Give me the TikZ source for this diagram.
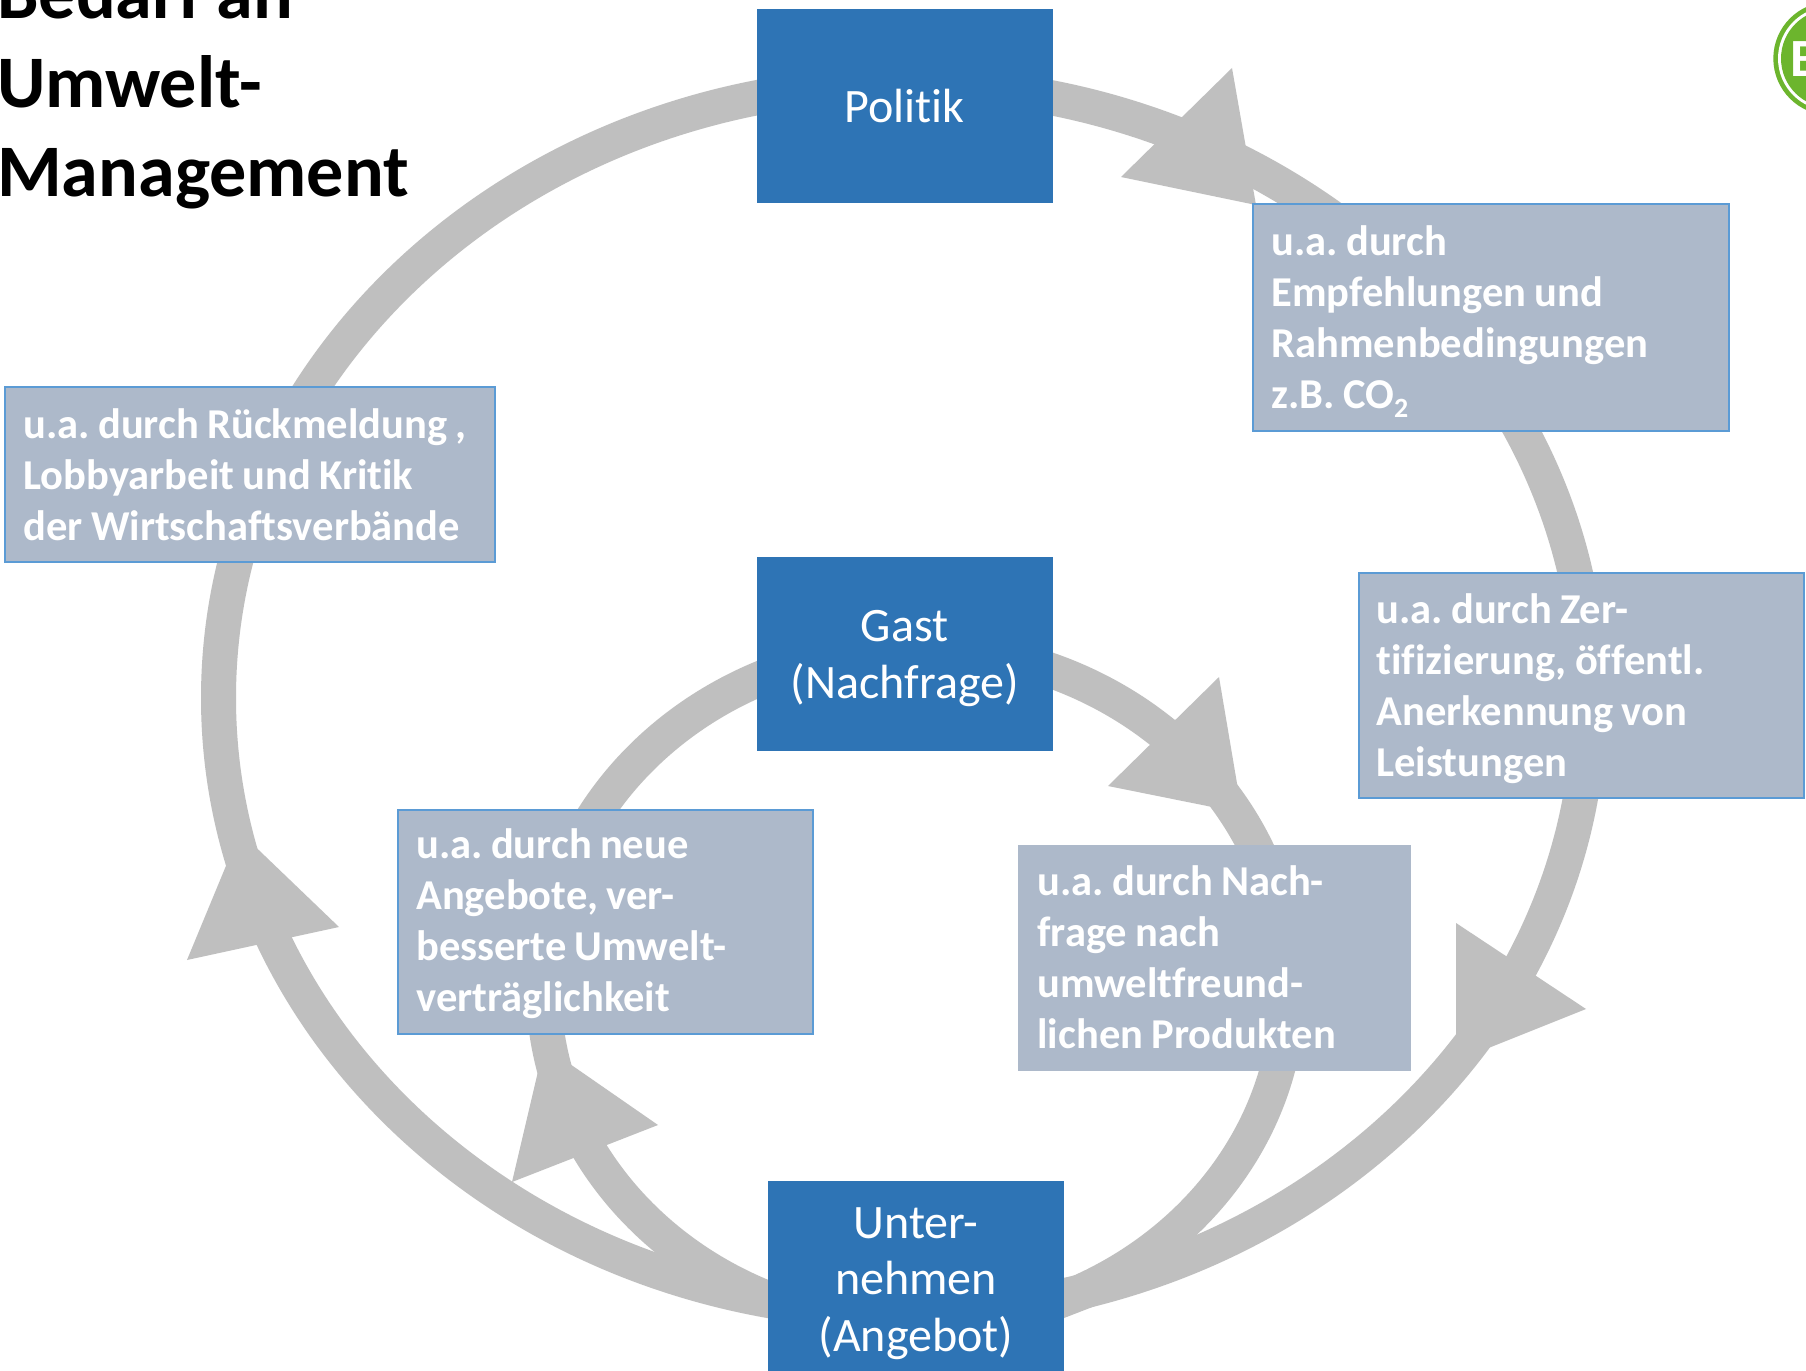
\documentclass[tikz,border=0pt]{standalone}
\usepackage{fontspec}
\setmainfont{Carlito}[Ligatures=NoCommon,WordSpace=0.85]
\definecolor{ringgray}{HTML}{BFBFBF}
\definecolor{bluebox}{HTML}{2E74B5}
\definecolor{labelfill}{HTML}{ADB9CA}
\definecolor{labeledge}{HTML}{5B9BD5}
\definecolor{logogreen}{HTML}{6CB52D}
\tikzset{
  ring/.style={draw=ringgray,line width=35bp},
  head/.style={fill=ringgray,draw=none},
  actor/.style={fill=bluebox,draw=none,inner sep=0pt},
  actortext/.style={text=white,align=center,inner sep=0pt,
    font=\fontsize{48.2}{57.2}\selectfont\frenchspacing},
  remark/.style={fill=labelfill,draw=labeledge,line width=2bp,inner sep=0pt},
  plainremark/.style={fill=labelfill,draw=none,inner sep=0pt},
  remarktext/.style={text=white,align=left,inner sep=0pt,anchor=west,
    font=\fontsize{42.7}{51.2}\selectfont\bfseries\frenchspacing},
  titletext/.style={anchor=base west,inner sep=0pt,align=left,text=black,
    font=\fontsize{74.4}{89.5}\selectfont\bfseries\frenchspacing},
}
\begin{document}
\begin{tikzpicture}[x=1bp,y=-1bp]
\useasboundingbox (0,0) rectangle (1806,1371);
\clip (0,0) rectangle (1806,1371);
\fill[white] (0,0) rectangle (1806,1371);
% rings
\coordinate (outerc) at (904,698);
\coordinate (innerc) at (916,987);
\draw[ring] (outerc) ellipse [x radius=685.5,y radius=614.5];
\draw[ring] (innerc) ellipse [x radius=372.5,y radius=339.5];
% arrow heads
\fill[head] (1232,68) -- (1121,177) -- (1256,205) -- cycle;
\fill[head] (1456,923) -- (1586,1009) -- (1456,1061) -- cycle;
\fill[head] (1219,677) -- (1108,786) -- (1242,813) -- cycle;
\fill[head] (187,960) -- (339,927) -- (240,832) -- cycle;
\fill[head] (512,1182) -- (658,1125) -- (544,1046) -- cycle;
\fill[head] (1095,1306) -- (1064,1318) -- (1064,1295) -- cycle;
% title
\node[titletext] (title) at (-3,197) {Bedarf an\\Umwelt-\\Management};
% logo
\fill[logogreen] (1830,58.5) circle (56.7);
\fill[white] (1830,58.5) circle (52);
\fill[logogreen] (1830,58.5) circle (49);
\node[anchor=base west,inner sep=0pt,text=white,font=\fontsize{54}{54}\selectfont\bfseries] (logo) at (1790,77) {B};
% actors
\node[actor,minimum width=295.5bp,minimum height=194bp] (politik) at (904.8,106) {};
\node[actortext] (politikt) at (politik.center) {Politik};
\node[actor,minimum width=295.5bp,minimum height=194bp] (gast) at (904.8,654) {};
\node[actortext] (gastt) at ([yshift=-4.5bp]gast.center) {Gast\\(Nachfrage)};
\node[actor,minimum width=296bp,minimum height=200bp,anchor=north] (unternehmen) at (916,1181) {};
\node[actortext] (unternehment) at ([yshift=-2.5bp]unternehmen.center) {Unter-\\nehmen\\(Angebot)};
% remarks
\node[remark,minimum width=476bp,minimum height=226bp] (empf) at (1490.5,317.5) {};
\node[remarktext] (empft) at ([xshift=19.8bp,yshift=-3.8bp]empf.west)
  {u.a. durch\\Empfehlungen und\\Rahmenbedingungen\\z.B. CO\raisebox{-9bp}{\fontsize{28}{28}\selectfont 2}};
\node[remark,minimum width=445bp,minimum height=225bp] (zert) at (1581,685) {};
\node[remarktext] (zertt) at ([xshift=18.8bp,yshift=-3.5bp]zert.west)
  {u.a. durch Zer-\\tifizierung, öffentl.\\Anerkennung von\\Leistungen};
\node[remark,minimum width=489bp,minimum height=174bp] (lobby) at (250,474.5) {};
\node[remarktext] (lobbyt) at ([xshift=18.8bp]lobby.west)
  {u.a. durch Rückmeldung ,\\Lobbyarbeit und Kritik\\der Wirtschaftsverbände};
\node[remark,minimum width=415bp,minimum height=224bp] (neue) at (605,921.5) {};
\node[remarktext] (neuet) at ([xshift=19.6bp,yshift=-2.5bp]neue.west)
  {u.a. durch neue\\Angebote, ver-\\besserte Umwelt-\\verträglichkeit};
\node[plainremark,minimum width=393bp,minimum height=226bp] (nach) at (1214.5,958) {};
\node[remarktext] (nacht) at ([xshift=19.5bp,yshift=0.5bp]nach.west)
  {u.a. durch Nach-\\frage nach\\umweltfreund-\\lichen Produkten};
\end{tikzpicture}
\end{document}
